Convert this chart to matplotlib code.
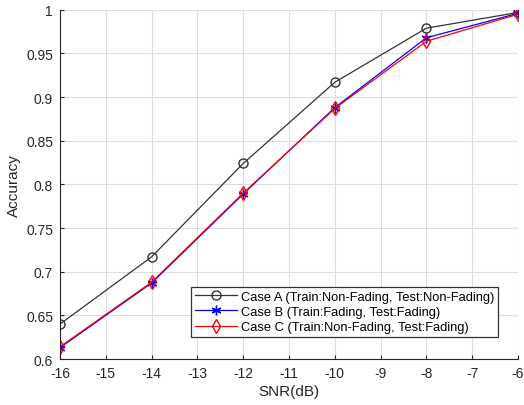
import matplotlib
matplotlib.use('Agg')
import matplotlib.pyplot as plt

plt.rcParams['font.family'] = ['Liberation Sans', 'DejaVu Sans']
plt.rcParams['axes.unicode_minus'] = False

snr = [-16, -14, -12, -10, -8, -6]
case_a = [0.640, 0.717, 0.824, 0.917, 0.979, 0.997]
case_b = [0.613, 0.687, 0.789, 0.888, 0.968, 0.996]
case_c = [0.614, 0.688, 0.790, 0.887, 0.964, 0.995]
labels = ['Case A (Train:Non-Fading, Test:Non-Fading)',
          'Case B (Train:Fading, Test:Fading)',
          'Case C (Train:Non-Fading, Test:Fading)']

fig = plt.figure(figsize=(5.24, 4.06), dpi=100)
ax = fig.add_axes([0.1145, 0.1133, 0.874, 0.86])

ax.plot(snr, case_a, color='#333333', marker='o', mfc='none', ms=6.5, lw=0.9, label=labels[0])
ax.plot(snr, case_b, color='blue', marker=(6, 2, 0), ms=7, mew=1, lw=0.9, label=labels[1])
ax.plot(snr, case_c, color='red', marker='d', mfc='none', ms=7, lw=0.9, label=labels[2])

ax.set_xlim(-16, -6)
ax.set_ylim(0.6, 1)
ax.set_xticks(range(-16, -5))
ax.set_yticks([0.6, 0.65, 0.7, 0.75, 0.8, 0.85, 0.9, 0.95, 1])
ax.set_yticklabels(['0.6', '0.65', '0.7', '0.75', '0.8', '0.85', '0.9', '0.95', '1'])
ax.grid(True, color='#dddddd', lw=0.8)
ax.set_axisbelow(True)
for s in ['top', 'right']:
    ax.spines[s].set_visible(False)
for s in ['left', 'bottom']:
    ax.spines[s].set_color('#262626')
ax.tick_params(colors='#262626', labelsize=10, direction='in', length=3, pad=5)
ax.set_xlabel('SNR(dB)', fontsize=11, color='#262626', labelpad=3)
ax.set_ylabel('Accuracy', fontsize=11, color='#262626', labelpad=4)

leg = ax.legend(loc='lower right', bbox_to_anchor=(0.956, 0.063), fontsize=9.3,
                fancybox=False, framealpha=1, edgecolor='#333333',
                handlelength=3.2, borderpad=0.3, labelspacing=0.25, handletextpad=0.3,
                borderaxespad=0)
leg.get_frame().set_linewidth(0.9)

fig.savefig('out.png', dpi=100)
